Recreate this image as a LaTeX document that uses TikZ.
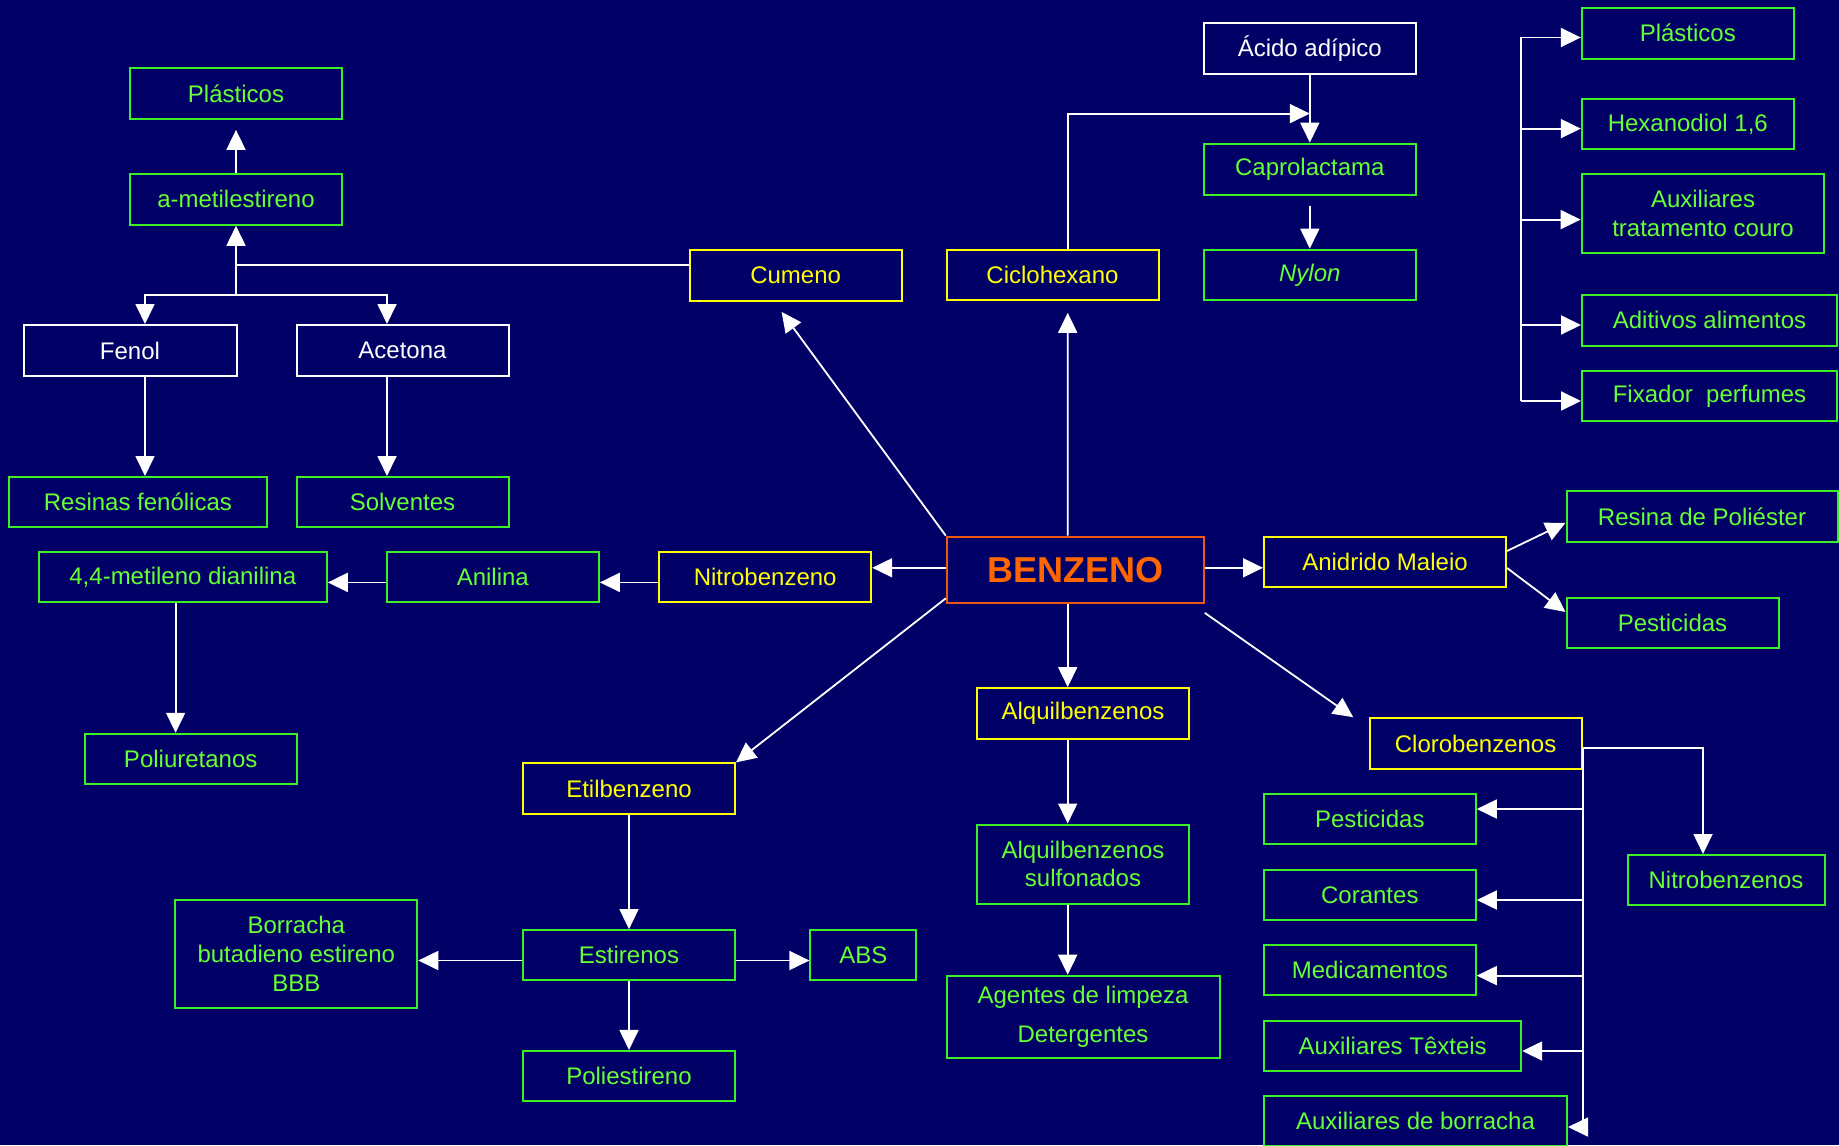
\documentclass[tikz,border=0pt]{standalone}
\usepackage{fontspec}
\setmainfont{Liberation Sans}
\usetikzlibrary{arrows.meta}
\definecolor{bg}{RGB}{0,0,102}
\definecolor{gtext}{RGB}{102,255,51}
\definecolor{gline}{RGB}{60,240,40}
\definecolor{ylw}{RGB}{255,255,0}
\definecolor{orng}{RGB}{255,102,0}
\definecolor{orline}{RGB}{240,85,20}
\begin{document}
\begin{tikzpicture}[x=0.5pt,y=-0.5pt,
  base/.style={rectangle, inner sep=0pt, line width=1pt, align=center, font=\fontsize{12}{14.4}\selectfont},
  gbox/.style={base, draw=gline, text=gtext},
  ybox/.style={base, draw=ylw, text=ylw},
  wbox/.style={base, draw=white, text=white},
  obox/.style={base, draw=orline, text=orng, font=\fontsize{18}{21}\selectfont\bfseries},
  wh/.style 2 args={minimum width=#1pt, minimum height=#2pt},
  ln/.style={white, line width=0.9pt},
  arr/.style={white, line width=0.9pt, -{Triangle[length=10pt,width=9.5pt]}}]
\fill[bg] (0,0) rectangle (1839,1145);
\useasboundingbox (0,0) rectangle (1839,1145);

% nodes
\node[gbox, wh={106}{25.5}] (plL) at (236,93.4) {Plásticos};
\node[gbox, wh={106}{25.5}] (ameth) at (236,199.3) {a-metilestireno};
\node[ybox, wh={106}{25.5}] (cum) at (795.6,275) {Cumeno};
\node[wbox, wh={106.5}{25.5}] (fen) at (130,350.5) {Fenol};
\node[wbox, wh={106}{25.5}] (ace) at (402.5,350.5) {Acetona};
\node[gbox, wh={129}{25}] (res) at (137.9,502) {Resinas fenólicas};
\node[gbox, wh={106}{25}] (sol) at (402.5,502) {Solventes};
\node[gbox, wh={144}{25.25}] (dian) at (182.8,577.2) {4,4-metileno dianilina};
\node[gbox, wh={106}{25.25}] (anil) at (492.8,577.2) {Anilina};
\node[ybox, wh={106}{25.25}] (nitro) at (765.2,577.2) {Nitrobenzeno};
\node[gbox, wh={106}{25.25}] (poliu) at (190.7,759) {Poliuretanos};
\node[ybox, wh={106}{25.5}] (etil) at (629,788.9) {Etilbenzeno};
\node[gbox, wh={121}{54.2}] (borr) at (296.3,953.8) {Borracha\\butadieno estireno\\BBB};
\node[gbox, wh={106}{25}] (est) at (629,955.1) {Estirenos};
\node[gbox, wh={53}{25}] (abs) at (863.4,955.1) {ABS};
\node[gbox, wh={106}{25.25}] (polie) at (629,1076.2) {Poliestireno};
\node[wbox, wh={106}{25.35}] (acid) at (1309.8,48.2) {Ácido adípico};
\node[gbox, wh={106}{25.5}] (capro) at (1309.8,169.1) {Caprolactama};
\node[gbox, wh={106}{25.4}] (nylon) at (1309.8,275) {\itshape Nylon};
\node[ybox, wh={106}{25.4}] (cic) at (1052.5,275) {Ciclohexano};
\node[gbox, wh={106}{25.35}] (plR) at (1687.8,33.2) {Plásticos};
\node[gbox, wh={106}{25.35}] (hex) at (1687.8,124) {Hexanodiol 1,6};
\node[gbox, wh={121.35}{39.65}] (couro) at (1703,213.6) {Auxiliares\\tratamento couro};
\node[gbox, wh={127.5}{25.35}] (adit) at (1709.5,320.4) {Aditivos alimentos};
\node[gbox, wh={127.5}{25.35}] (fix) at (1709.5,396) {Fixador~ perfumes};
\node[gbox, wh={135.5}{25.35}] (resina) at (1702,516.8) {Resina de Poliéster};
\node[obox, wh={128.5}{33.3}] (benz) at (1075.3,570) {BENZENO};
\node[ybox, wh={121}{25}] (anid) at (1385,562) {Anidrido Maleio};
\node[gbox, wh={106}{25}] (pestR) at (1672.5,623) {Pesticidas};
\node[ybox, wh={106}{25.5}] (alq) at (1083,713.6) {Alquilbenzenos};
\node[gbox, wh={106}{39.5}] (sulf) at (1083,864) {Alquilbenzenos\\sulfonados};
\node[gbox, wh={136.5}{41}] (agen) at (1083,1016.7) {Agentes de limpeza\\[5pt]Detergentes};
\node[ybox, wh={106}{25.5}] (clor) at (1475.6,743.7) {Clorobenzenos};
\node[gbox, wh={98.5}{25}] (nitros) at (1726,880) {Nitrobenzenos};
\node[gbox, wh={106}{25.25}] (pestL) at (1369.8,819.2) {Pesticidas};
\node[gbox, wh={106}{25}] (cor) at (1369.8,895) {Corantes};
\node[gbox, wh={106}{25.1}] (med) at (1369.8,970.2) {Medicamentos};
\node[gbox, wh={128.5}{25.25}] (tex) at (1392.7,1046) {Auxiliares Têxteis};
\node[gbox, wh={151.5}{25}] (aborr) at (1415.5,1121) {Auxiliares de borracha};

% Cumeno tree
\coordinate (j1) at (236,265);
\coordinate (j2) at (236,295);
\draw[ln] ([yshift=5pt]cum.west) -- (j1);
\draw[arr] (j2) -- (ameth.south);
\draw[arr] (j2) -| ([xshift=7.5pt]fen.north);
\draw[arr] (j2) -| ([xshift=-7.75pt]ace.north);
\draw[arr] ([xshift=7.5pt]fen.south) -- ([xshift=7.5pt]fen.south |- res.north);
\draw[arr] ([xshift=-7.75pt]ace.south) -- ([xshift=-7.75pt]ace.south |- sol.north);
\draw[arr, shorten >=5pt] (ameth.north) -- (plL.south);

% Benzeno upward
\draw[arr] (benz.north west) -- ([xshift=-7pt,yshift=-5.2pt]cum.south);
\draw[arr] ([xshift=-3.8pt]benz.north) -- ([xshift=7.6pt,yshift=-5.7pt]cic.south);
\coordinate (m) at (1309.8,113.6);
\draw[arr] ([xshift=7.6pt]cic.north) |- (m);
\draw[arr] (acid.south) -- (capro.north);
\draw[arr, shorten <=5pt] (capro.south) -- (nylon.north);

% bracket
\coordinate (bt) at (1521,37.5);
\coordinate (bb) at (1521,401);
\draw[ln] (bt) -- (bb);
\draw[arr] (bt) -- (bt -| plR.west);
\draw[arr] ([yshift=-2.3pt]hex.west -| bt) -- ([yshift=-2.3pt]hex.west);
\draw[arr] ([yshift=-3pt]couro.west -| bt) -- ([yshift=-3pt]couro.west);
\draw[arr] ([yshift=-2.3pt]adit.west -| bt) -- ([yshift=-2.3pt]adit.west);
\draw[arr] (bb) -- (bb -| fix.west);

% left side
\draw[arr] ([yshift=1.1pt]benz.west) -- ([yshift=1.1pt]benz.west -| nitro.east);
\draw[arr] ([yshift=-2.6pt]nitro.west) -- ([yshift=-2.6pt]nitro.west -| anil.east);
\draw[arr] ([yshift=-2.6pt]anil.west) -- ([yshift=-2.6pt]anil.west -| dian.east);
\draw[arr] ([xshift=-3.6pt]dian.south) -- ([xshift=-3.6pt]dian.south |- poliu.north);
\draw[arr] ([yshift=3pt]benz.south west) -- (etil.north east);
\draw[arr] (etil.south) -- (est.north);
\draw[arr] ([yshift=-2.7pt]est.west) -- ([yshift=-2.7pt]est.west -| borr.east);
\draw[arr] ([yshift=-2.7pt]est.east) -- ([yshift=-2.7pt]est.east -| abs.west);
\draw[arr] (est.south) -- (polie.north);

% right side
\draw[arr] ([yshift=1.1pt]benz.east) -- ([yshift=1.1pt]benz.east -| anid.west);
\draw[arr] ([yshift=5.5pt]anid.east) -- ([yshift=-3pt]resina.west);
\draw[arr] ([yshift=-3pt]anid.east) -- ([yshift=5.5pt]pestR.west);
\draw[arr] ([xshift=-3.8pt]benz.south) -- ([xshift=-3.8pt]benz.south |- alq.north);
\draw[arr] ([xshift=-7.65pt]alq.south) -- ([xshift=-7.65pt]sulf.north);
\draw[arr] ([xshift=-7.65pt]sulf.south) -- ([xshift=-7.65pt]sulf.south |- agen.north);
\draw[arr] ([yshift=-4.3pt]benz.south east) -- ([xshift=-7.7pt]clor.north west);
\draw[arr] ([yshift=-2.2pt]clor.east) -| ([xshift=-11.5pt]nitros.north);
\draw[arr] ([yshift=-2.2pt]clor.east) |- ([yshift=-3pt]aborr.east);
\draw[arr] ([yshift=5.1pt]pestL.east -| clor.east) -- ([yshift=5.1pt]pestL.east);
\draw[arr] ([yshift=-2.5pt]cor.east -| clor.east) -- ([yshift=-2.5pt]cor.east);
\draw[arr] ([yshift=-2.7pt]med.east -| clor.east) -- ([yshift=-2.7pt]med.east);
\draw[arr] ([yshift=-2.5pt]tex.east -| clor.east) -- ([yshift=-2.5pt]tex.east);
\end{tikzpicture}
\end{document}
